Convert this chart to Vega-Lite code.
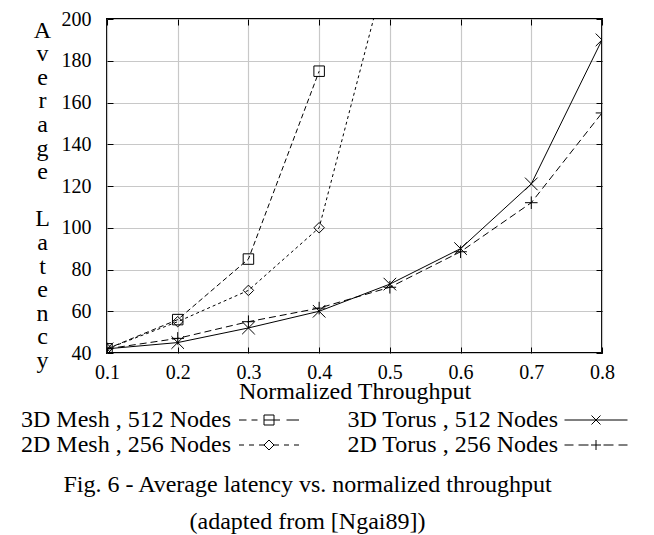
{
  "$schema": "https://vega.github.io/schema/vega-lite/v6.json",
  "width": 495,
  "height": 334,
  "autosize": "none",
  "padding": {"left": 107, "top": 19, "right": 52, "bottom": 182},
  "background": "white",
  "config": {
    "font": "Liberation Serif",
    "view": {"stroke": "black", "strokeWidth": 2},
    "axis": {"domain": false, "labelColor": "black", "titleColor": "black", "tickColor": "black", "labelFont": "Liberation Serif", "titleFont": "Liberation Serif", "titleFontWeight": "normal", "labelFlush": false},
    "legend": {
      "title": null, "orient": "none", "legendX": 150, "legendY": 389, "columns": 2, "columnPadding": 46, "rowPadding": 1, "padding": 0,
      "symbolSize": 100, "symbolStrokeWidth": 1, "symbolOpacity": 1, "symbolStrokeColor": "black", "symbolFillColor": "transparent",
      "labelFont": "Liberation Serif", "labelFontSize": 24, "labelColor": "black", "labelAlign": "right", "labelOffset": -50, "labelLimit": 0
    }
  },
  "data": {"values": [
    {"series": "3D Mesh , 512 Nodes", "x": 0.1, "y": 42},
    {"series": "3D Mesh , 512 Nodes", "x": 0.2, "y": 56},
    {"series": "3D Mesh , 512 Nodes", "x": 0.3, "y": 85},
    {"series": "3D Mesh , 512 Nodes", "x": 0.4, "y": 175},
    {"series": "2D Mesh , 256 Nodes", "x": 0.1, "y": 42},
    {"series": "2D Mesh , 256 Nodes", "x": 0.2, "y": 55},
    {"series": "2D Mesh , 256 Nodes", "x": 0.3, "y": 70},
    {"series": "2D Mesh , 256 Nodes", "x": 0.4, "y": 100},
    {"series": "2D Mesh , 256 Nodes", "x": 0.5, "y": 230},
    {"series": "3D Torus , 512 Nodes", "x": 0.1, "y": 42},
    {"series": "3D Torus , 512 Nodes", "x": 0.2, "y": 45},
    {"series": "3D Torus , 512 Nodes", "x": 0.3, "y": 52},
    {"series": "3D Torus , 512 Nodes", "x": 0.4, "y": 60},
    {"series": "3D Torus , 512 Nodes", "x": 0.5, "y": 73},
    {"series": "3D Torus , 512 Nodes", "x": 0.6, "y": 90},
    {"series": "3D Torus , 512 Nodes", "x": 0.7, "y": 121},
    {"series": "3D Torus , 512 Nodes", "x": 0.8, "y": 190},
    {"series": "2D Torus , 256 Nodes", "x": 0.1, "y": 42},
    {"series": "2D Torus , 256 Nodes", "x": 0.2, "y": 47},
    {"series": "2D Torus , 256 Nodes", "x": 0.3, "y": 55},
    {"series": "2D Torus , 256 Nodes", "x": 0.4, "y": 61.5},
    {"series": "2D Torus , 256 Nodes", "x": 0.5, "y": 71.5},
    {"series": "2D Torus , 256 Nodes", "x": 0.6, "y": 88.5},
    {"series": "2D Torus , 256 Nodes", "x": 0.7, "y": 112},
    {"series": "2D Torus , 256 Nodes", "x": 0.8, "y": 155}
  ]},
  "title": {
    "text": ["Fig. 6 - Average latency vs. normalized throughput", "(adapted from [Ngai89])"],
    "orient": "bottom",
    "anchor": "middle",
    "frame": "group",
    "dx": -47,
    "offset": 16,
    "font": "Liberation Serif",
    "fontSize": 24,
    "fontWeight": "normal",
    "lineHeight": 37,
    "color": "black"
  },
  "resolve": {"axis": {"x": "independent", "y": "independent"}},
  "layer": [
    {
      "transform": [{"filter": "datum.series === '3D Mesh , 512 Nodes'"}],
      "mark": {"type": "line", "color": "black", "strokeWidth": 1, "strokeDash": [5, 3], "clip": true},
      "encoding": {
        "x": {"field": "x", "type": "quantitative", "scale": {"domain": [0.1, 0.8], "nice": false, "zero": false},
          "axis": {"orient": "bottom", "values": [0.1, 0.2, 0.3, 0.4, 0.5, 0.6, 0.7, 0.8], "format": ".1f", "grid": true, "gridColor": "#c8c8c8", "gridWidth": 1.2,
            "tickSize": -6, "labelPadding": 15, "labelFontSize": 20, "labelBaseline": "top",
            "title": "Normalized Throughput", "titleFontSize": 24, "titleY": 26, "titleBaseline": "top"}},
        "y": {"field": "y", "type": "quantitative", "scale": {"domain": [40, 200], "nice": false, "zero": false},
          "axis": {"orient": "left", "values": [40, 60, 80, 100, 120, 140, 160, 180, 200], "grid": true, "gridColor": "#c8c8c8", "gridWidth": 1.2,
            "tickSize": -6, "labelPadding": 22, "labelFontSize": 20,
            "title": ["A", "v", "e", "r", "a", "g", "e", "\u200b", "L", "a", "t", "e", "n", "c", "y"],
            "titleAngle": 0, "titleAlign": "center", "titleBaseline": "alphabetic", "titleFontSize": 24, "titleLineHeight": 23.6, "titleX": -65, "titleY": 18}}
      }
    },
    {
      "transform": [{"filter": "datum.series === '2D Mesh , 256 Nodes'"}],
      "mark": {"type": "line", "color": "black", "strokeWidth": 1, "strokeDash": [3, 3], "clip": true},
      "encoding": {
        "x": {"field": "x", "type": "quantitative", "axis": null},
        "y": {"field": "y", "type": "quantitative", "axis": null}
      }
    },
    {
      "transform": [{"filter": "datum.series === '3D Torus , 512 Nodes'"}],
      "mark": {"type": "line", "color": "black", "strokeWidth": 1, "clip": true},
      "encoding": {
        "x": {"field": "x", "type": "quantitative", "axis": null},
        "y": {"field": "y", "type": "quantitative", "axis": null}
      }
    },
    {
      "transform": [{"filter": "datum.series === '2D Torus , 256 Nodes'"}],
      "mark": {"type": "line", "color": "black", "strokeWidth": 1, "strokeDash": [7, 4], "clip": true},
      "encoding": {
        "x": {"field": "x", "type": "quantitative", "axis": null},
        "y": {"field": "y", "type": "quantitative", "axis": null}
      }
    },
    {
      "transform": [{"filter": "datum.series === '3D Mesh , 512 Nodes'"}],
      "mark": {"type": "point", "shape": "square", "filled": false, "color": "black", "strokeWidth": 1, "opacity": 1, "size": 110, "clip": true},
      "encoding": {
        "x": {"field": "x", "type": "quantitative", "axis": null},
        "y": {"field": "y", "type": "quantitative", "axis": null}
      }
    },
    {
      "transform": [{"filter": "datum.series === '2D Mesh , 256 Nodes'"}],
      "mark": {"type": "point", "shape": "diamond", "filled": false, "color": "black", "strokeWidth": 1, "opacity": 1, "size": 110, "clip": true},
      "encoding": {
        "x": {"field": "x", "type": "quantitative", "axis": null},
        "y": {"field": "y", "type": "quantitative", "axis": null}
      }
    },
    {
      "transform": [{"filter": "datum.series === '3D Torus , 512 Nodes'"}],
      "mark": {"type": "point", "shape": "M-1.2,-1.2L1.2,1.2M-1.2,1.2L1.2,-1.2", "filled": false, "color": "black", "strokeWidth": 1, "opacity": 1, "size": 110, "clip": true},
      "encoding": {
        "x": {"field": "x", "type": "quantitative", "axis": null},
        "y": {"field": "y", "type": "quantitative", "axis": null}
      }
    },
    {
      "transform": [{"filter": "datum.series === '2D Torus , 256 Nodes'"}],
      "mark": {"type": "point", "shape": "M-1.2,0H1.2M0,-1.2V1.2", "filled": false, "color": "black", "strokeWidth": 1, "opacity": 1, "size": 110, "clip": true},
      "encoding": {
        "x": {"field": "x", "type": "quantitative", "axis": null},
        "y": {"field": "y", "type": "quantitative", "axis": null}
      }
    },
    {
      "mark": {"type": "point", "filled": false, "color": "black", "strokeWidth": 1, "opacity": 0, "clip": true},
      "encoding": {
        "x": {"field": "x", "type": "quantitative",
          "axis": {"orient": "top", "values": [0.1, 0.2, 0.3, 0.4, 0.5, 0.6, 0.7, 0.8], "labels": false, "grid": false, "tickSize": -6, "title": null}},
        "y": {"field": "y", "type": "quantitative",
          "axis": {"orient": "right", "values": [40, 60, 80, 100, 120, 140, 160, 180, 200], "labels": false, "grid": false, "tickSize": -6, "title": null}},
        "shape": {"field": "series",
          "scale": {"domain": ["3D Mesh , 512 Nodes", "2D Mesh , 256 Nodes", "3D Torus , 512 Nodes", "2D Torus , 256 Nodes"],
            "range": [
              "M-6,0H-4.5M-3.5,0H-2.3M-1,-1H1V1H-1ZM-1,0H1M1,0H2.2M3.5,0H6",
              "M-6,0H-5M-4,0H-3M-2,0H-1M-1,0L0,-1L1,0L0,1ZM1,0H2M3,0H4M5,0H6",
              "M-6.3,0H6.3M-0.9,-0.9L0.9,0.9M-0.9,0.9L0.9,-0.9",
              "M-6.3,0H-4.5M-3.5,0H-1.5M-1,0H1M0,-1V1M1.5,0H3.5M4.5,0H6.3"
            ]},
          "legend": {"symbolOpacity": 1}}
      }
    }
  ]
}
